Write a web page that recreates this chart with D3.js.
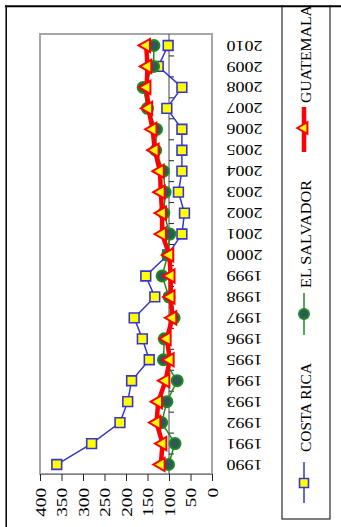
<!DOCTYPE html>
<html>
<head>
<meta charset="utf-8">
<script src="https://cdn.jsdelivr.net/npm/d3@7"></script>
<style>
body { margin: 0; background: #fff; }
svg text { font-family: "Liberation Serif", "Times New Roman", serif; fill: #000; }
</style>
</head>
<body>
<div id="chart"></div>
<script>
var years = [1990, 1991, 1992, 1993, 1994, 1995, 1996, 1997, 1998, 1999, 2000,
             2001, 2002, 2003, 2004, 2005, 2006, 2007, 2008, 2009, 2010];
var costaRica  = [361, 280, 214, 196, 187, 146, 162, 181, 133, 154, 103,
                  70, 64, 78, 70, 70, 70, 105, 70, 125, 102];
var elSalvador = [101, 86, 117, 105, 81, 113, 111, 88, 100, 116, 103,
                  98, 112, 109, 113, 131, 129, 150, 160, 136, 135];
var guatemala  = [119, 115, 129, 125, 108, 98, 105, 92, 96, 96, 99,
                  116, 116, 119, 121, 133, 138, 148, 152, 150, 153];
var valueTicks = [0, 50, 100, 150, 200, 250, 300, 350, 400];
var seriesNames = ["COSTA RICA", "EL SALVADOR", "GUATEMALA"];

var width = 341, height = 527;
var plot = { left: 40, right: 212, top: 34, bottom: 474 };

var svg = d3.select("#chart").append("svg")
  .attr("width", width)
  .attr("height", height);

// values run right to left, years bottom to top (the chart is turned on its side)
var x = d3.scaleLinear().domain([0, 400]).range([plot.right, plot.left]);
var y = d3.scalePoint().domain(years).range([475, 35]).padding(0.5);
var step = y.step();

// plot frame
svg.append("rect")
  .attr("x", plot.left).attr("y", plot.top)
  .attr("width", plot.right - plot.left).attr("height", plot.bottom - plot.top)
  .attr("fill", "none").attr("stroke", "#a6a6a6").attr("stroke-width", 2);

// value axis
var xAxis = d3.axisBottom(x).tickValues(valueTicks).tickSize(7).tickSizeOuter(0);
var gx = svg.append("g")
  .attr("transform", "translate(0," + plot.bottom + ")")
  .attr("font-family", null)
  .call(xAxis);
gx.select(".domain").attr("stroke", "#7f7f7f");
gx.selectAll(".tick line").attr("stroke", "#222");
gx.selectAll(".tick text")
  .attr("transform", "rotate(-90)")
  .attr("x", -14).attr("y", 0).attr("dy", "0.35em")
  .style("text-anchor", "end")
  .attr("font-size", 14.5)
  .attr("textLength", function (d) { return String(d).length * 9.6; })
  .attr("lengthAdjust", "spacingAndGlyphs");

// year axis line crosses at 100
var xCross = x(100);
svg.append("line")
  .attr("x1", xCross).attr("x2", xCross)
  .attr("y1", plot.top).attr("y2", plot.bottom)
  .attr("stroke", "#444").attr("stroke-width", 1);
var bounds = years.slice(1).map(function (d) { return y(d) + step / 2; });
svg.append("g").selectAll("line").data(bounds).join("line")
  .attr("x1", xCross).attr("x2", xCross + 5)
  .attr("y1", function (d) { return d; }).attr("y2", function (d) { return d; })
  .attr("stroke", "#222").attr("stroke-width", 1);

// year labels, upside down
svg.append("g").selectAll("text").data(years).join("text")
  .attr("transform", function (d) { return "translate(226.5," + y(d) + ") rotate(180)"; })
  .attr("text-anchor", "end")
  .attr("dy", "0.35em")
  .attr("font-size", 14)
  .attr("textLength", 36)
  .attr("lengthAdjust", "spacingAndGlyphs")
  .text(function (d) { return d; });

function pts(vals) {
  return vals.map(function (v, i) { return { year: years[i], v: v }; });
}
var line = d3.line()
  .x(function (d) { return x(d.v); })
  .y(function (d) { return y(d.year); });

var blue = "#3636cc", yellow = "#ffff00", green = "#1f8a1f", slate = "#2f5858", red = "#ff0000";
var square = d3.symbol(d3.symbolSquare, 95);
var tri = d3.symbol(d3.symbolTriangle, 75);

// COSTA RICA
svg.append("path").datum(pts(costaRica))
  .attr("d", line).attr("fill", "none").attr("stroke", blue).attr("stroke-width", 1.5);
svg.append("g").selectAll("path").data(pts(costaRica)).join("path")
  .attr("d", square)
  .attr("transform", function (d) { return "translate(" + x(d.v) + "," + y(d.year) + ")"; })
  .attr("fill", yellow).attr("stroke", blue).attr("stroke-width", 1.6);

// EL SALVADOR
svg.append("path").datum(pts(elSalvador))
  .attr("d", line).attr("fill", "none").attr("stroke", green).attr("stroke-width", 1.5);
svg.append("g").selectAll("circle").data(pts(elSalvador)).join("circle")
  .attr("cx", function (d) { return x(d.v); })
  .attr("cy", function (d) { return y(d.year); })
  .attr("r", 5.5)
  .attr("fill", slate).attr("stroke", green).attr("stroke-width", 2);

// GUATEMALA
svg.append("path").datum(pts(guatemala))
  .attr("d", line).attr("fill", "none").attr("stroke", red).attr("stroke-width", 4.5)
  .attr("stroke-linejoin", "round");
svg.append("g").selectAll("path").data(pts(guatemala)).join("path")
  .attr("d", tri)
  .attr("transform", function (d) { return "translate(" + x(d.v) + "," + y(d.year) + ") rotate(-90)"; })
  .attr("fill", yellow).attr("stroke", red).attr("stroke-width", 2);

// legend
svg.append("rect")
  .attr("x", 282).attr("y", -5).attr("width", 48).attr("height", 524)
  .attr("fill", "none").attr("stroke", "#000").attr("stroke-width", 1);

var legendX = 304;
var legendItems = [
  { name: seriesNames[0], y0: 462, y1: 503, mid: 483, textY: 452, len: 89 },
  { name: seriesNames[1], y0: 293, y1: 335, mid: 314, textY: 288, len: 108 },
  { name: seriesNames[2], y0: 107, y1: 152, mid: 128, textY: 103, len: 98 }
];
var lg = svg.append("g");
// costa rica
lg.append("line").attr("x1", legendX).attr("x2", legendX)
  .attr("y1", legendItems[0].y0).attr("y2", legendItems[0].y1)
  .attr("stroke", blue).attr("stroke-width", 1.5);
lg.append("path").attr("d", d3.symbol(d3.symbolSquare, 80))
  .attr("transform", "translate(" + legendX + "," + legendItems[0].mid + ")")
  .attr("fill", yellow).attr("stroke", blue).attr("stroke-width", 1.6);
// el salvador
lg.append("line").attr("x1", legendX).attr("x2", legendX)
  .attr("y1", legendItems[1].y0).attr("y2", legendItems[1].y1)
  .attr("stroke", green).attr("stroke-width", 1.5);
lg.append("circle").attr("cx", legendX).attr("cy", legendItems[1].mid).attr("r", 5)
  .attr("fill", slate).attr("stroke", green).attr("stroke-width", 2);
// guatemala
lg.append("line").attr("x1", legendX).attr("x2", legendX)
  .attr("y1", legendItems[2].y0).attr("y2", legendItems[2].y1)
  .attr("stroke", red).attr("stroke-width", 4.5);
lg.append("path").attr("d", d3.symbol(d3.symbolTriangle, 60))
  .attr("transform", "translate(" + legendX + "," + legendItems[2].mid + ") rotate(-90)")
  .attr("fill", yellow).attr("stroke", red).attr("stroke-width", 2);

lg.selectAll("text").data(legendItems).join("text")
  .attr("transform", function (d) { return "translate(306," + d.textY + ") rotate(-90)"; })
  .attr("text-anchor", "start")
  .attr("dy", "0.35em")
  .attr("font-size", 15)
  .attr("textLength", function (d) { return d.len; })
  .attr("lengthAdjust", "spacingAndGlyphs")
  .text(function (d) { return d.name; });

// outer border
svg.append("rect").attr("x", 0).attr("y", 0).attr("width", width).attr("height", 5.5).attr("fill", "#fff");
svg.append("line").attr("x1", 5).attr("x2", width).attr("y1", 6.3).attr("y2", 6.3)
  .attr("stroke", "#000").attr("stroke-width", 2);
svg.append("line").attr("x1", 6.2).attr("x2", 6.2).attr("y1", 5.5).attr("y2", height)
  .attr("stroke", "#000").attr("stroke-width", 1.5);
</script>
</body>
</html>
